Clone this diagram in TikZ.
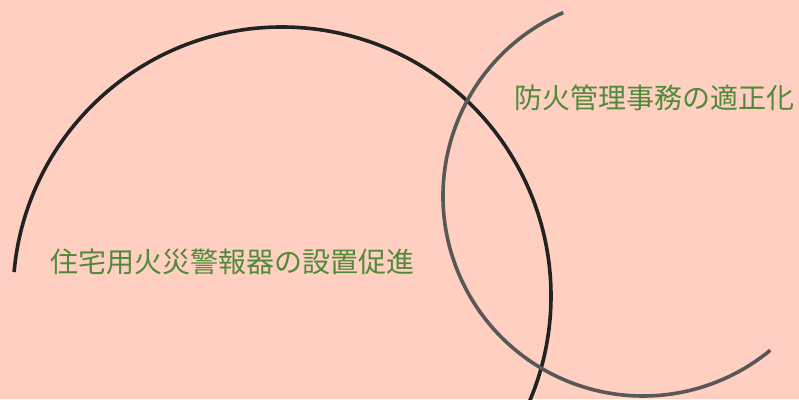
\documentclass[tikz,border=0pt]{standalone}
\usepackage{fontspec}
\usepackage{xcolor}
\newfontfamily\jpfont{Noto Sans CJK JP}
\definecolor{bgpink}{RGB}{255,208,193}
\definecolor{leafgreen}{RGB}{80,138,58}
\definecolor{arcgray}{RGB}{88,88,88}
\definecolor{arcblack}{RGB}{34,34,34}

\begin{document}
\begin{tikzpicture}[x=1pt, y=-1pt,
    ring/.style={line width=3.6pt},
    caption/.style={text=leafgreen, inner sep=0pt, font=\jpfont\fontsize{28}{32}\selectfont}]
    \useasboundingbox (0,0) rectangle (799,399);
    \fill[bgpink] (0,0) rectangle (799,399);

    \coordinate (O1) at (282, 296);
    \coordinate (O2) at (643, 196);

    \clip (0,0) rectangle (799,399);
    \draw[ring, arcblack] (O1) ++(185.1:269) arc[start angle=185.1, end angle=384, radius=269];
    \draw[ring, arcgray] (O2) ++(246.5:200) arc[start angle=246.5, end angle=50.5, radius=200];

    \node[caption] (fire) at (654, 98) {防火管理事務の適正化};
    \node[caption] (alarm) at (232, 262) {住宅用火災警報器の設置促進};
  \end{tikzpicture}
\end{document}
